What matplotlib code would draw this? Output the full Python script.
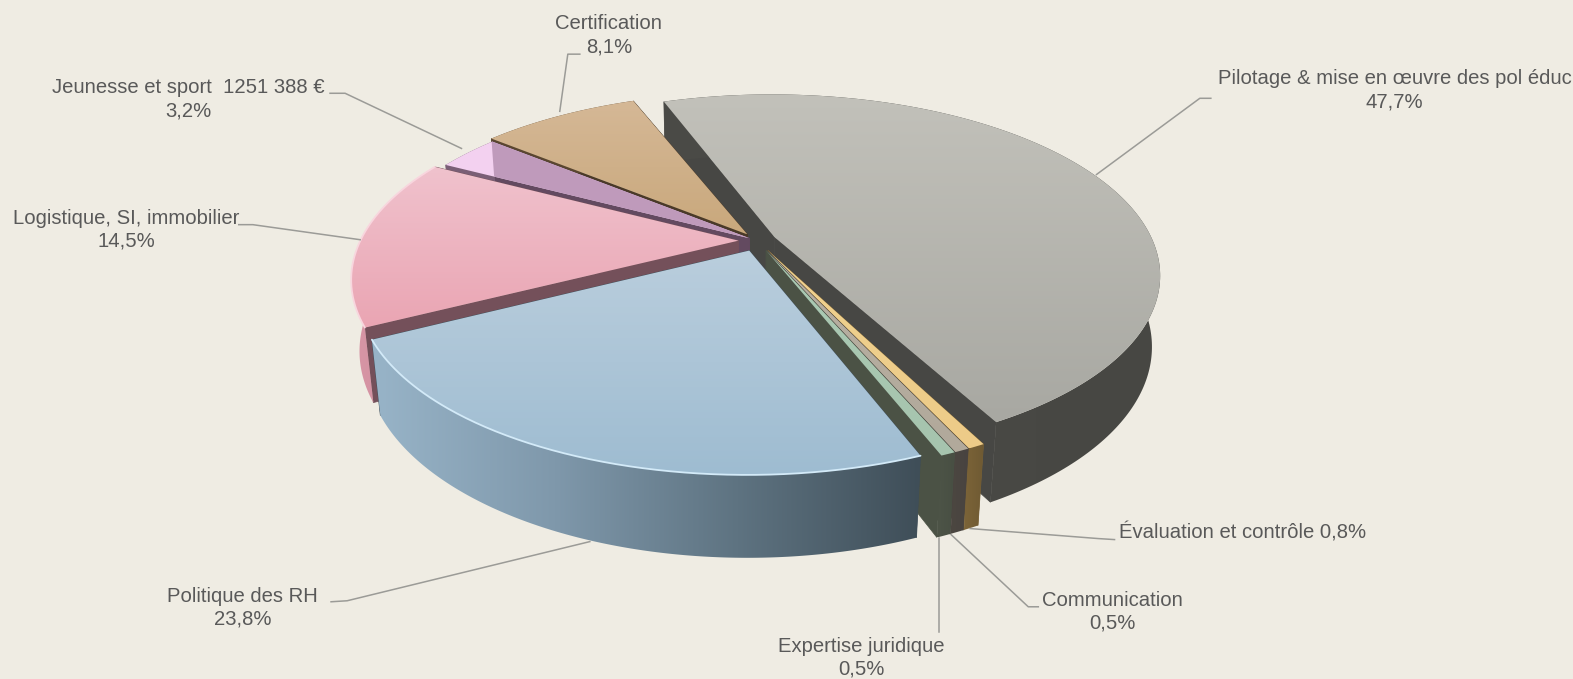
import numpy as np
import matplotlib
matplotlib.use("Agg")
import matplotlib.pyplot as plt
from matplotlib.colors import to_rgb
from matplotlib.patches import Polygon, Rectangle

plt.rcParams['font.family'] = ['Liberation Sans Narrow', 'Liberation Sans', 'DejaVu Sans']

# ---- data (clockwise from the start angle)
categories = ["Pilotage & mise en œuvre des pol éduc", "Évaluation et contrôle", "Communication",
              "Expertise juridique", "Politique des RH", "Logistique, SI, immobilier",
              "Jeunesse et sport  1251 388 €", "Certification"]
shares = [47.7, 0.8, 0.5, 0.5, 23.8, 14.5, 3.2, 8.1]
share_text = ["47,7%", "0,8%", "0,5%", "0,5%", "23,8%", "14,5%", "3,2%", "8,1%"]

# ---- styles
BG = "#EFECE3"
TEXT = "#595959"
LINE = "#9B9B97"
explode = [0.05, 0.06, 0.06, 0.06, 0.06, 0.05, 0.025, 0.045]
gap_before = [0, 1.2, 0, 0, 0, 0, 0, 0]            # degrees, perspective of the original
sweep_adjust = [0, -0.8, 0, 0, -1.3, 2.6, 0, 0]    # degrees, perspective of the original
top_cols = [("#C2C1BA", "#A8A8A2"), ("#F0D28F", "#EDCB88"), ("#B9B0A2", "#B1A99B"), ("#ABCAB4", "#A6C4AE"),
            ("#BACEDD", "#9EBCD1"), ("#F0C2CD", "#EAA5B3"), ("#F4D2F1", "#F2CFEE"), ("#D5B896", "#C9A87C")]
side_cols = [["#4B4B47", "#474743"], ["#7C6438", "#6F5A33"], ["#4C4741", "#484340"], ["#4D5447", "#484F43"],
             ["#98B4C8", "#7F98AB", "#5E7381", "#3F4E58"], ["#D896A6", "#C98A99"], ["#7A5F76", "#7A5F76"], ["#5A4630", "#5A4630"]]
cut_cols = ["#474744", "#7A6237", "#4A4540", "#4B5245", "#3F4E58", "#74505A", "#634A60", "#4A3A28"]
edge_light = {4: "#D3EAF8", 5: "#F8D6DE"}
draw_order = [0, 1, 2, 3, 7, 6, 5, 4]

CX, CY, RX, RY, K, H, D = 755.0, 240.0, 377.0, 173.0, 0.206, 71.0, 0.02
START = -20.0

fig = plt.figure(figsize=(15.73, 6.79), dpi=100, facecolor=BG)
ax = fig.add_axes([0, 0, 1, 1])
ax.set_axis_off()


def project(u, v, low=False):
    w = 1 - K * np.asarray(v) + (D if low else 0)
    return CX + RX * np.asarray(u) / w, CY + (RY * np.asarray(v) + (H if low else 0)) / w


def grad_fill(xy, stops, vertical, zorder):
    xy = np.asarray(xy)
    rgb = np.array([to_rgb(c) for c in stops])
    t = np.linspace(0, 1, 256)
    img = np.stack([np.interp(t, np.linspace(0, 1, len(stops)), rgb[:, i]) for i in range(3)], axis=-1)
    img = img[:, None, :] if vertical else img[None, :, :]
    x0, x1, y0, y1 = xy[:, 0].min(), xy[:, 0].max(), xy[:, 1].min(), xy[:, 1].max()
    im = ax.imshow(img, extent=(x0, x1, y1, y0), aspect="auto", zorder=zorder, interpolation="bilinear")
    patch = Polygon(xy, closed=True, transform=ax.transData, fc="none", ec="none")
    ax.add_patch(patch)
    im.set_clip_path(patch)
    return im


sweeps = np.array(shares) * 3.6 + np.array(sweep_adjust)
gaps = np.array(gap_before)
starts = START + np.concatenate([[0], np.cumsum(sweeps)[:-1]]) + np.cumsum(gaps)

geo = []
for i in range(len(shares)):
    a0, a1 = np.radians(starts[i]), np.radians(starts[i] + sweeps[i])
    mid = (a0 + a1) / 2
    ox, oy = explode[i] * np.sin(mid), -explode[i] * np.cos(mid)
    th = np.linspace(a0, a1, 200)
    geo.append((ox + np.sin(th), oy - np.cos(th), ox, oy))

z = 2
for i in draw_order:
    u, v, ox, oy = geo[i]
    tx, ty = project(u, v)
    bx, by = project(u, v, True)
    ax0, ay0 = project(ox, oy)
    bx0, by0 = project(ox, oy, True)
    # radial cut faces
    for k in (0, -1):
        ax.add_patch(Polygon([(ax0, ay0), (tx[k], ty[k]), (bx[k], by[k]), (bx0, by0)], closed=True,
                             fc=cut_cols[i], ec=cut_cols[i], lw=0.5, zorder=z))
    z += 1
    if i == 6:
        # outer part of this cut face is paler, as if seen through the top
        u7, v7, _, _ = geo[7]
        edge_x = float(project(u7[0], v7[0])[0])
        pale = Polygon([(ax0, ay0), (tx[0], ty[0]), (bx[0], by[0]), (bx0, by0)], closed=True,
                       fc="#A08FA0", ec="none", zorder=z)
        ax.add_patch(pale)
        pale.set_clip_path(Rectangle((0, 0), edge_x, 677, transform=ax.transData))
        z += 1
    # outer wall
    wall = np.vstack([np.c_[tx, ty], np.c_[bx, by][::-1]])
    grad_fill(wall, side_cols[i], False, z)
    z += 1
    # top face
    top = np.vstack([[(ax0, ay0)], np.c_[tx, ty]])
    grad_fill(top, top_cols[i], True, z)
    z += 1
    if i in edge_light:
        ax.plot(tx, ty, color=edge_light[i], lw=1.3, zorder=z, solid_capstyle="round")
        z += 1
    if i == 6:
        # the cut face of the Certification slice shows through the Jeunesse top
        u7, v7, ox7, oy7 = geo[7]
        p0 = project(ox7, oy7)
        p1 = project(u7[0], v7[0])
        p2 = project(u7[0], v7[0], True)
        p3 = project(ox7, oy7, True)
        over = Polygon([p0, p1, p2, p3], closed=True, fc="#BF9ABB", ec="none", zorder=z)
        ax.add_patch(over)
        clip = Polygon(top, closed=True, transform=ax.transData, fc="none", ec="none")
        ax.add_patch(clip)
        over.set_clip_path(clip)
        z += 1

# ---- leaders and labels
leaders = {
    0: [(1207, 98), (1196, 98), (1093, 174)],
    1: [(1111, 538), (1095, 537), (967, 527)],
    2: [(1035, 605), (1025, 605), (948, 533)],
    3: [(936, 630), (936, 536)],
    4: [(330, 600), (346, 599), (588, 540)],
    5: [(238, 224), (252, 224), (359, 239)],
    6: [(329, 93), (344, 93), (460, 148)],
    7: [(578, 54), (566, 54), (558, 111)],
}
for pts in leaders.values():
    p = np.array(pts)
    ax.plot(p[:, 0], p[:, 1], color=LINE, lw=1.1, zorder=z, solid_joinstyle="round")

label_pos = {0: (1390, 90), 2: (1109, 610), 3: (859, 656), 4: (242, 606), 5: (126, 229), 6: (188, 99), 7: (607, 35)}
for i, (x, y) in label_pos.items():
    ax.text(x, y, f"{categories[i]}\n{share_text[i]}", ha="center", va="center", fontsize=14.6,
            color=TEXT, linespacing=1.27, zorder=z + 1)
ax.text(1115, 531, f"{categories[1]} {share_text[1]}", ha="left", va="center", fontsize=14.6, color=TEXT, zorder=z + 1)

ax.set_xlim(0, 1568)
ax.set_ylim(677, 0)
fig.savefig("out.png", dpi=100, facecolor=BG)
